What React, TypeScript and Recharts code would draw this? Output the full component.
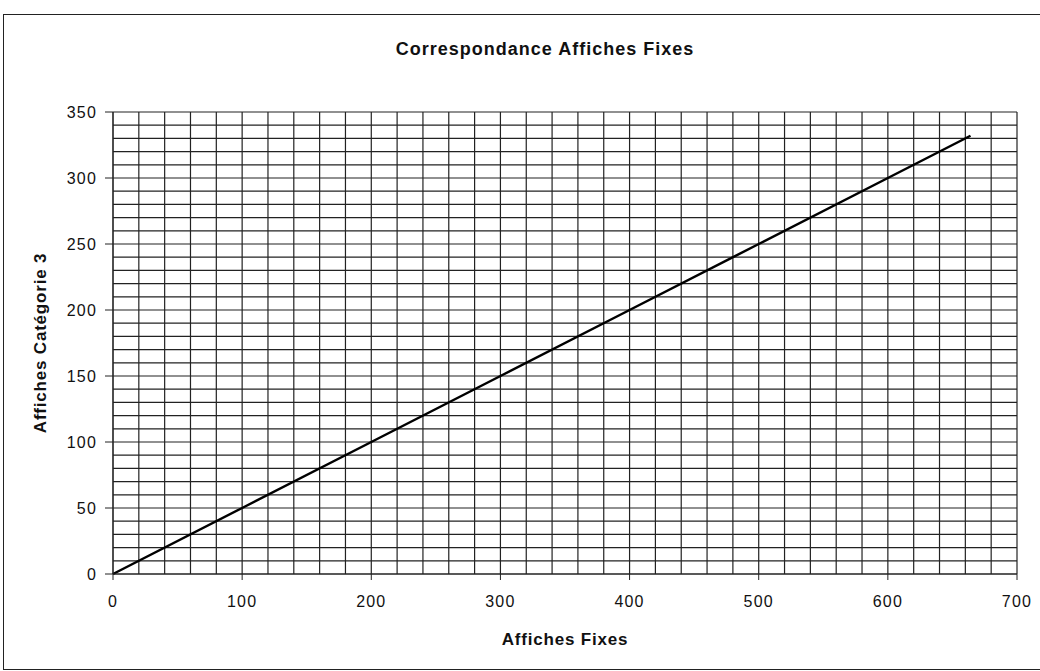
import React from "react";
import { LineChart, Line, XAxis, YAxis, ReferenceLine } from "recharts";

const fixes = [0, 100, 200, 300, 400, 500, 600, 664];
const categorie3 = [0, 50, 100, 150, 200, 250, 300, 332];
const xTicks = [0, 100, 200, 300, 400, 500, 600, 700];
const yTicks = [0, 50, 100, 150, 200, 250, 300, 350];
const xGrid = Array.from({ length: 36 }, (_, i) => i * 20);
const yGrid = Array.from({ length: 36 }, (_, i) => i * 10);

const data = fixes.map((x, i) => ({ x, y: categorie3[i] }));

const font = "Arial, 'Liberation Sans', Helvetica, sans-serif";

export default function App() {
  return (
    <div style={{ position: "absolute", left: 0, top: 0, width: 1040, height: 671, background: "#fff", fontFamily: font, overflow: "hidden" }}>
      <div style={{ position: "absolute", left: 3, top: 14, width: 1060, height: 654, borderLeft: "1.5px solid #222", borderTop: "1.5px solid #222", borderBottom: "1.5px solid #222" }} />
      <div style={{ position: "absolute", left: 0, top: 39, width: 1090, textAlign: "center", fontSize: 18, fontWeight: "bold", letterSpacing: 1, color: "#111" }}>
        Correspondance Affiches Fixes
      </div>
      <LineChart width={1040} height={671} data={data} margin={{ top: 112, right: 23, bottom: 0, left: 0 }}>
        {xGrid.map((v) => (
          <ReferenceLine key={"vx" + v} x={v} stroke="#222" strokeWidth={1.2} ifOverflow="visible" />
        ))}
        {yGrid.map((v) => (
          <ReferenceLine key={"hy" + v} y={v} stroke="#222" strokeWidth={1.2} ifOverflow="visible" />
        ))}
        <XAxis
          type="number"
          dataKey="x"
          domain={[0, 700]}
          ticks={xTicks}
          height={97}
          tickSize={6}
          tickMargin={16}
          stroke="#222"
          tick={{ fill: "#111", fontSize: 16, fontFamily: font, letterSpacing: 1.2 }}
          label={{ value: "Affiches Fixes", position: "insideBottom", offset: 26, style: { fill: "#111", fontSize: 17, fontWeight: "bold", letterSpacing: 0.8, fontFamily: font } }}
        />
        <YAxis
          type="number"
          dataKey="y"
          domain={[0, 350]}
          ticks={yTicks}
          width={113}
          tickSize={8}
          tickMargin={8}
          stroke="#222"
          tick={{ fill: "#111", fontSize: 16, fontFamily: font, letterSpacing: 1.2 }}
          label={{ value: "Affiches Catégorie 3", angle: -90, position: "insideLeft", offset: 40, style: { textAnchor: "middle", fill: "#111", fontSize: 17, fontWeight: "bold", letterSpacing: 0.8, fontFamily: font } }}
        />
        <Line type="linear" dataKey="y" stroke="#000" strokeWidth={2.5} dot={false} isAnimationActive={false} />
      </LineChart>
    </div>
  );
}
